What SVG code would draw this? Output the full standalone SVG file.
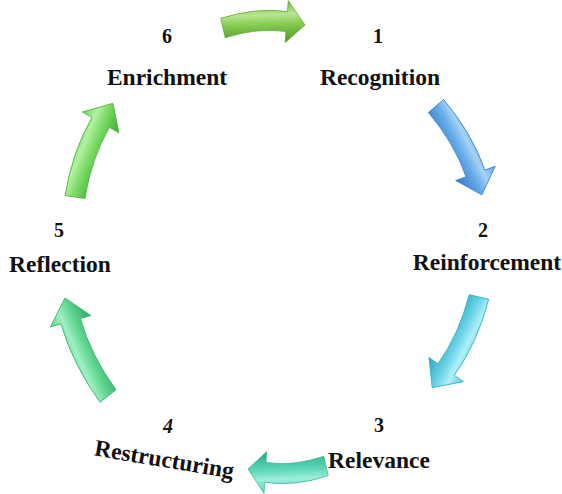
<svg xmlns="http://www.w3.org/2000/svg" width="562" height="494" viewBox="0 0 562 494">
<style>
.num{font-family:"Liberation Serif","Times New Roman",serif;font-weight:bold;font-size:20px;fill:#111;text-anchor:middle}
.lbl{font-family:"Liberation Serif","Times New Roman",serif;font-weight:bold;font-size:23.5px;fill:#111;text-anchor:middle}
.arr{stroke-width:0.8;vector-effect:non-scaling-stroke;stroke-linejoin:round}
</style>
<defs>
<path id="shape" d="M-2.33,-9.72 Q40.54,-19.63 79.33,-14.03 L80.79,-24.93 L100,0 L75.21,16.69 L76.67,5.79 Q41.46,0.705 2.33,9.72 Z"/>
<linearGradient id="g1" x1="0" y1="0" x2="0" y2="1"><stop offset="0" stop-color="#78c043"/><stop offset="0.32" stop-color="#b8e690"/><stop offset="0.55" stop-color="#86cc52"/><stop offset="0.85" stop-color="#5fa833"/><stop offset="1" stop-color="#4f9a2a"/></linearGradient>
<linearGradient id="g2" x1="0" y1="0" x2="0" y2="1"><stop offset="0" stop-color="#5aa2e6"/><stop offset="0.32" stop-color="#a6d2f6"/><stop offset="0.55" stop-color="#68aeea"/><stop offset="0.85" stop-color="#448ad0"/><stop offset="1" stop-color="#3a7cc4"/></linearGradient>
<linearGradient id="g3" x1="0" y1="0" x2="0" y2="1"><stop offset="0" stop-color="#5ccde0"/><stop offset="0.32" stop-color="#b0eef7"/><stop offset="0.55" stop-color="#6dd6e8"/><stop offset="0.85" stop-color="#3fb6ca"/><stop offset="1" stop-color="#34a9be"/></linearGradient>
<linearGradient id="g4" x1="0" y1="0" x2="0" y2="1"><stop offset="0" stop-color="#50d0b0"/><stop offset="0.32" stop-color="#a0eed9"/><stop offset="0.55" stop-color="#5ed8b8"/><stop offset="0.85" stop-color="#38b898"/><stop offset="1" stop-color="#2fae90"/></linearGradient>
<linearGradient id="g5" x1="0" y1="0" x2="0" y2="1"><stop offset="0" stop-color="#5ad48c"/><stop offset="0.32" stop-color="#a2efc2"/><stop offset="0.55" stop-color="#66da96"/><stop offset="0.85" stop-color="#40b874"/><stop offset="1" stop-color="#36ae6a"/></linearGradient>
<linearGradient id="g6" x1="0" y1="0" x2="0" y2="1"><stop offset="0" stop-color="#6fd65c"/><stop offset="0.32" stop-color="#b2f0a2"/><stop offset="0.55" stop-color="#7cdc68"/><stop offset="0.85" stop-color="#52ba42"/><stop offset="1" stop-color="#48b03a"/></linearGradient>
</defs>
<rect width="562" height="494" fill="#ffffff"/>
<g id="connectors">
<use href="#shape" class="arr" fill="url(#g1)" stroke="#5a9e35" transform="translate(223,28) rotate(-2.1) scale(0.82,1)"/>
<use href="#shape" class="arr" fill="url(#g2)" stroke="#3f82c8" transform="translate(436,106) rotate(62.7) scale(1,1)"/>
<use href="#shape" class="arr" fill="url(#g3)" stroke="#3aaec2" transform="translate(479,297) rotate(117.3) scale(1.02,1)"/>
<use href="#shape" class="arr" fill="url(#g4)" stroke="#34b294" transform="translate(326,466) rotate(177.8) scale(0.78,1)"/>
<use href="#shape" class="arr" fill="url(#g5)" stroke="#3bb26e" transform="translate(108,396) rotate(-113.7) scale(1.07,1)"/>
<use href="#shape" class="arr" fill="url(#g6)" stroke="#4cb43e" transform="translate(75,197) rotate(-68) scale(1.01,1)"/>
</g>
<g id="node1"><text class="num" x="378" y="43">1</text><text class="lbl" x="380" y="85">Recognition</text></g>
<g id="node2"><text class="num" x="483" y="237">2</text><text class="lbl" x="487" y="270">Reinforcement</text></g>
<g id="node3"><text class="num" x="379" y="432">3</text><text class="lbl" x="379" y="468">Relevance</text></g>
<g id="node4"><text class="num" x="168" y="433" font-style="italic">4</text><text class="lbl" x="163" y="467" transform="rotate(9.5,163,467)">Restructuring</text></g>
<g id="node5"><text class="num" x="59" y="237">5</text><text class="lbl" x="60" y="272">Reflection</text></g>
<g id="node6"><text class="num" x="167" y="43">6</text><text class="lbl" x="167" y="85">Enrichment</text></g>
</svg>
